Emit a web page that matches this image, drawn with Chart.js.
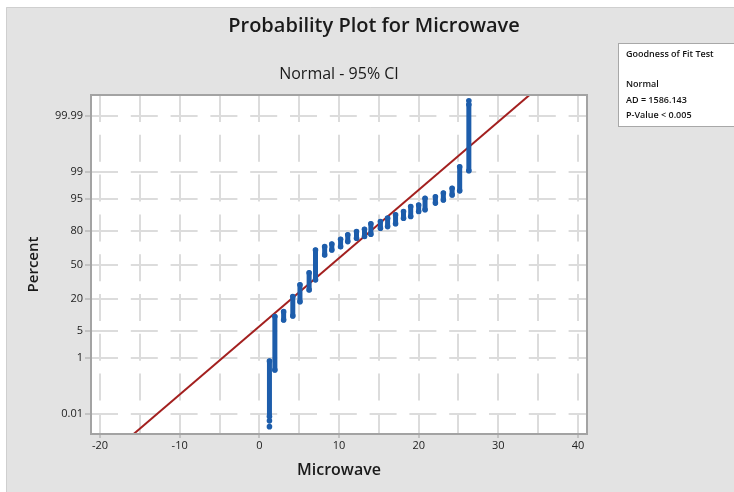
<!DOCTYPE html>
<html>
<head>
<meta charset="utf-8">
<title>Probability Plot for Microwave</title>
<script src="https://cdn.jsdelivr.net/npm/chart.js@4.4.1/dist/chart.umd.min.js"></script>
<style>
	body { margin: 0; background: #fff; }
	canvas { display: block; }
</style>
</head>
<body>
<canvas id="chart-prob" width="734" height="492"></canvas>
<script>
// sorted Microwave values, each with the percent range its points cover
const microwave = [1.27, 1.95, 3.05, 4.2, 5.1, 6.25, 7.05, 8.2, 9.1, 10.2, 11.1, 12.2, 13.2,
	14.0, 15.2, 16.1, 17.1, 18.1, 19.0, 20.0, 20.8, 22.1, 23.1, 24.2, 25.15, 26.3];
const pctLow = [0.0074, 0.43, 8.4, 10.1, 17.9, 26.6, 35.4, 59.9, 64.6, 67.6, 72.0, 74.8, 76.1,
	77.9, 82.1, 83.1, 84.8, 87.9, 88.7, 90.9, 91.6, 93.9, 94.8, 96.0, 96.8, 99.07];
const pctHigh = [0.815, 9.8, 12.1, 21.4, 30.9, 42.1, 64.6, 67.6, 70.0, 74.0, 77.4, 79.8, 81.4,
	84.8, 86.1, 87.9, 89.5, 90.9, 92.8, 93.3, 95.2, 95.6, 96.4, 97.25, 99.29, 99.997];

// single points away from the stacks
const loneX = [1.27, 1.27, 26.3];
const lonePct = [0.0048, 0.0026, 99.998];

// fitted normal distribution
const fitMean = 9.01;
const fitSd = 5.86;

const percentTicks = ['0.01', '1', '5', '20', '50', '80', '95', '99', '99.99'];
const gofLines = ['Goodness of Fit Test', '', 'Normal', 'AD = 1586.143', 'P-Value < 0.005'];

// inverse standard normal CDF (Acklam)
function normInv(p) {
	const a = [-3.969683028665376e+01, 2.209460984245205e+02, -2.759285104469687e+02, 1.383577518672690e+02, -3.066479806614716e+01, 2.506628277459239e+00];
	const b = [-5.447609879822406e+01, 1.615858368580409e+02, -1.556989798598866e+02, 6.680131188771972e+01, -1.328068155288572e+01];
	const c = [-7.784894002430293e-03, -3.223964580411365e-01, -2.400758277161838e+00, -2.549732539343734e+00, 4.374664141464968e+00, 2.938163982698783e+00];
	const d = [7.784695709041462e-03, 3.224671290700398e-01, 2.445134137142996e+00, 3.754408661907416e+00];
	const pl = 0.02425;
	let q, r;
	if (p < pl) {
		q = Math.sqrt(-2 * Math.log(p));
		return (((((c[0]*q+c[1])*q+c[2])*q+c[3])*q+c[4])*q+c[5]) / ((((d[0]*q+d[1])*q+d[2])*q+d[3])*q+1);
	}
	if (p <= 1 - pl) {
		q = p - 0.5; r = q * q;
		return (((((a[0]*r+a[1])*r+a[2])*r+a[3])*r+a[4])*r+a[5])*q / (((((b[0]*r+b[1])*r+b[2])*r+b[3])*r+b[4])*r+1);
	}
	q = Math.sqrt(-2 * Math.log(1 - p));
	return -(((((c[0]*q+c[1])*q+c[2])*q+c[3])*q+c[4])*q+c[5]) / ((((d[0]*q+d[1])*q+d[2])*q+d[3])*q+1);
}
const probZ = (pct) => normInv(pct / 100);

const Y_MIN = -4.23, Y_MAX = 4.25;
const X_MIN = -21.13, X_MAX = 41.13;

// each value becomes a vertical run of points, null breaks the line between runs
let stackData = [];
microwave.forEach((v, i) => {
	stackData.push({x: v, y: probZ(pctLow[i])});
	stackData.push({x: v, y: probZ(pctHigh[i])});
	stackData.push({x: v, y: null});
});
const loneData = loneX.map((v, i) => ({x: v, y: probZ(lonePct[i])}));
const fitData = [
	{x: fitMean + Y_MIN * fitSd, y: Y_MIN},
	{x: fitMean + Y_MAX * fitSd, y: Y_MAX}
];

const FONT = "'Open Sans', 'DejaVu Sans', sans-serif";

const framePlugin = {
	id: 'frame',
	beforeDraw(chart) {
		const ctx = chart.ctx;
		const a = chart.chartArea;
		ctx.save();
		ctx.fillStyle = '#ffffff';
		ctx.fillRect(0, 0, chart.width, chart.height);
		ctx.fillStyle = '#e3e3e3';
		ctx.fillRect(6, 7, chart.width - 6, chart.height - 7);
		ctx.strokeStyle = '#cfcfcf';
		ctx.lineWidth = 1;
		ctx.beginPath();
		ctx.moveTo(6.5, chart.height);
		ctx.lineTo(6.5, 7.5);
		ctx.lineTo(chart.width, 7.5);
		ctx.stroke();
		ctx.fillStyle = '#ffffff';
		ctx.fillRect(a.left, a.top, a.right - a.left, a.bottom - a.top);
		ctx.restore();
	},
	afterDraw(chart) {
		const ctx = chart.ctx;
		const a = chart.chartArea;
		ctx.save();
		ctx.strokeStyle = '#a3a3a3';
		ctx.lineWidth = 2;
		ctx.strokeRect(a.left, a.top, a.right - a.left, a.bottom - a.top);

		ctx.fillStyle = '#1a1a1a';
		ctx.textAlign = 'center';
		ctx.textBaseline = 'alphabetic';
		ctx.font = '600 20px ' + FONT;
		ctx.fillText('Probability Plot for Microwave', 374, 32);
		ctx.font = '500 16px ' + FONT;
		ctx.fillText('Normal - 95% CI', (a.left + a.right) / 2, 79);
		ctx.font = '600 16px ' + FONT;
		ctx.fillText('Microwave', (a.left + a.right) / 2, 475);
		ctx.save();
		ctx.translate(38, (a.top + a.bottom) / 2);
		ctx.rotate(-Math.PI / 2);
		ctx.font = '600 15px ' + FONT;
		ctx.fillText('Percent', 0, 0);
		ctx.restore();

		// goodness of fit box
		ctx.fillStyle = '#ffffff';
		ctx.fillRect(618, 43, 130, 84);
		ctx.strokeStyle = '#a8a8a8';
		ctx.lineWidth = 1;
		ctx.strokeRect(618.5, 43.5, 130, 83);
		ctx.fillStyle = '#111';
		ctx.textAlign = 'left';
		ctx.font = '600 9px ' + FONT;
		gofLines.forEach((line, i) => {
			ctx.fillText(line, 626, 56.5 + i * 15.4);
		});
		ctx.restore();
	}
};

let probCtx = document.getElementById('chart-prob');
let probChart = new Chart(probCtx, {
	type: 'scatter',
	data: {
		datasets: [{
			label: 'Fit',
			data: fitData,
			showLine: true,
			borderColor: '#a3201f',
			borderWidth: 2,
			pointRadius: 0,
			order: 2
		}, {
			label: 'Microwave',
			data: stackData,
			showLine: true,
			spanGaps: false,
			borderColor: '#1d5dab',
			borderWidth: 5,
			borderCapStyle: 'round',
			backgroundColor: '#1d5dab',
			pointRadius: 2.8,
			pointBorderWidth: 0,
			order: 1
		}, {
			label: 'Lone',
			data: loneData,
			backgroundColor: '#1d5dab',
			pointRadius: 2.8,
			pointBorderWidth: 0,
			order: 1
		}]
	},
	options: {
		responsive: false,
		animation: false,
		devicePixelRatio: 1,
		layout: {
			padding: {left: 0, top: 95, right: 147, bottom: 0}
		},
		plugins: {
			legend: {display: false},
			tooltip: {enabled: false}
		},
		scales: {
			x: {
				type: 'linear',
				min: X_MIN,
				max: X_MAX,
				afterFit: (scale) => { scale.height = 58; },
				afterBuildTicks: (scale) => {
					let t = [];
					for (let v = -20; v <= 40; v += 5) t.push({value: v});
					scale.ticks = t;
				},
				ticks: {
					font: {family: FONT, size: 11, weight: '500'},
					color: '#222',
					padding: 1,
					maxRotation: 0,
					autoSkip: false,
					callback: (v) => (v % 10 === 0 ? String(v) : '')
				},
				grid: {
					color: '#dcdcdc',
					lineWidth: 2,
					tickLength: 4,
					tickColor: (c) => (c.tick && c.tick.value % 10 === 0 ? '#a3a3a3' : 'rgba(0,0,0,0)'),
					tickWidth: 1,
					tickBorderDash: []
				},
				border: {display: false, dash: [27, 12.8]}
			},
			y: {
				type: 'linear',
				min: Y_MIN,
				max: Y_MAX,
				afterFit: (scale) => { scale.width = 91; },
				afterBuildTicks: (scale) => {
					scale.ticks = percentTicks.map((p) => ({value: probZ(parseFloat(p))}));
				},
				ticks: {
					font: {family: FONT, size: 11, weight: '500'},
					color: '#222',
					padding: 2,
					autoSkip: false,
					callback: (v, i) => percentTicks[i]
				},
				grid: {
					color: '#dcdcdc',
					lineWidth: 2,
					tickLength: 6,
					tickColor: '#a3a3a3',
					tickWidth: 1,
					tickBorderDash: []
				},
				border: {display: false, dash: [27, 12.8]}
			}
		}
	},
	plugins: [framePlugin]
});
</script>
</body>
</html>
